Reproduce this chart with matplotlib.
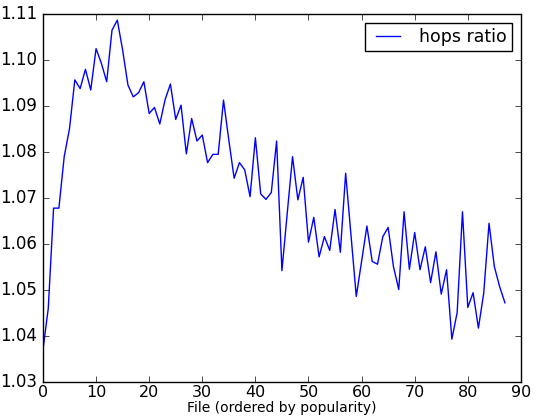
import matplotlib
matplotlib.use("Agg")
import matplotlib.pyplot as plt
import numpy as np

hops_ratio = [
    1.037, 1.046, 1.0678, 1.0678, 1.079, 1.0851, 1.0957, 1.0938, 1.098, 1.0935,
    1.1025, 1.0993, 1.0953, 1.1065, 1.1087, 1.1022, 1.0946, 1.092, 1.0929, 1.0953,
    1.0884, 1.0897, 1.0861, 1.0914, 1.0948, 1.0871, 1.0902, 1.0796, 1.0873, 1.0824,
    1.0837, 1.0777, 1.0795, 1.0795, 1.0913, 1.0826, 1.0743, 1.0777, 1.0761, 1.0703,
    1.0831, 1.0709, 1.0697, 1.0712, 1.0824, 1.0542, 1.0667, 1.079, 1.0696, 1.0745,
    1.0604, 1.0658, 1.0572, 1.0616, 1.0586, 1.0675, 1.0582, 1.0754, 1.062, 1.0486,
    1.0562, 1.0639, 1.0562, 1.0556, 1.0616, 1.0636, 1.0551, 1.0501, 1.067, 1.0545,
    1.0625, 1.0544, 1.0594, 1.0516, 1.0583, 1.0491, 1.0544, 1.0393, 1.0451, 1.067,
    1.0462, 1.0494, 1.0417, 1.0493, 1.0645, 1.0551, 1.0507, 1.0472,
]
files = np.arange(len(hops_ratio))

plt.style.use("classic")
fig = plt.figure(figsize=(5.37, 4.16), dpi=100)
fig.patch.set_facecolor("white")
ax = fig.add_axes([0.080, 0.082, 0.890, 0.884])

ax.plot(files, hops_ratio, color="#0000ff", linewidth=1, label="hops ratio")

ax.set_xlim(0, 90)
ax.set_ylim(1.03, 1.11)
ax.set_xticks(np.arange(0, 91, 10))
ax.set_yticks(np.arange(1.03, 1.111, 0.01))
ax.set_yticklabels(["%.2f" % v for v in np.arange(1.03, 1.111, 0.01)])
ax.tick_params(labelsize=12)
ax.tick_params(axis="x", labelsize=11.5, pad=2)
ax.set_xlabel("File (ordered by popularity)", fontsize=10)
ax.xaxis.set_label_coords(0.5, -0.0516)
ax.legend(loc="upper right", fontsize=12.5, borderpad=0.3)

fig.savefig("out.png", dpi=100)
